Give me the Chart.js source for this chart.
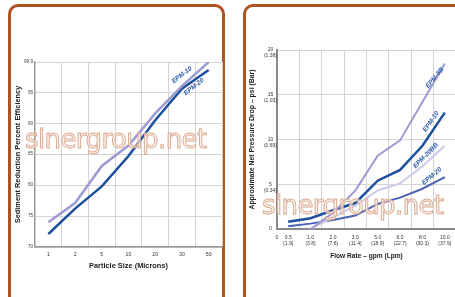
<!DOCTYPE html>
<html>
<head>
<meta charset="utf-8">
<script src="https://cdn.jsdelivr.net/npm/chart.js"></script>
<style>
    html, body { margin: 0; padding: 0; background: #fff; }
    body { width: 455px; height: 297px; overflow: hidden; position: relative; }
    .panel {
        position: absolute;
        box-sizing: border-box;
        border: 3px solid #b0521f;
        border-radius: 10px;
        background: #fff;
    }
    canvas { position: absolute; z-index: 2; }
    .wm {
        position: absolute;
        z-index: 3;
        font: 26px "DejaVu Sans", sans-serif;
        letter-spacing: -0.6px;
        line-height: 1;
        white-space: nowrap;
        color: rgba(252, 242, 236, 0.7);
        -webkit-text-stroke: 1px #dcab90;
        pointer-events: none;
    }
</style>
</head>
<body>
<div class="panel" style="left:8px;top:4px;width:217px;height:320px"></div>
<div class="panel" style="left:243px;top:4px;width:240px;height:320px"></div>
<canvas id="eff" width="214" height="260" style="left:10px;top:20px"></canvas>
<canvas id="drop" width="215" height="260" style="left:245px;top:20px"></canvas>
<div class="wm" style="left:25px;top:126px">sinergroup.net</div>
<div class="wm" style="left:262px;top:192px">sinergroup.net</div>
<script>
// --- sediment reduction chart
const sizeLabels = ['1', '2', '5', '10', '20', '30', '50'];
const effTicks = [70, 75, 80, 85, 90, 95, 99.9];
const epm10Eff = [74.0, 77.1, 83.1, 86.4, 91.6, 96.0, 99.9];
const epm20Eff = [72.1, 76.2, 79.8, 84.7, 90.5, 95.6, 98.6];

// --- pressure drop chart
const flowGpm = ['0.5', '1.0', '2.0', '3.0', '5.0', '6.0', '8.0', '10.0'];
const flowLpm = ['(1.9)', '(3.8)', '(7.6)', '(11.4)', '(18.9)', '(22.7)', '(30.3)', '(37.9)'];
const psiTicks = [0, 5, 10, 15, 20];
const barTicks = ['', '(0.34)', '(0.69)', '(1.03)', '(1.38)'];
const epm8bDrop = [null, 0, 1.8, 4.3, 8.2, 9.9, 14.2, 18.5];
const epm10Drop = [0.8, 1.2, 2.1, 2.9, 5.4, 6.6, 9.3, 13.0];
const epm20bbDrop = [null, 0, 1.3, 2.6, 4.3, 5.1, 7.0, 9.3];
const epm20Drop = [0.3, 0.6, 1.0, 1.5, 2.8, 3.5, 4.5, 5.8];

const FONT = '"Liberation Sans", Arial, sans-serif';
const GRID = '#d4d4d4';
const TAG_BLUE = '#2a5aa8';

// rotated series names, anchored in data space
const seriesTags = {
    id: 'seriesTags',
    afterDatasetsDraw(chart, args, opts) {
        const { ctx, scales: { x, y } } = chart;
        ctx.save();
        ctx.fillStyle = TAG_BLUE;
        ctx.font = 'italic bold 6.5px ' + FONT;
        ctx.textAlign = 'center';
        ctx.textBaseline = 'middle';
        (opts.tags || []).forEach(t => {
            ctx.save();
            ctx.translate(x.getPixelForValue(t.at), y.getPixelForValue(t.val));
            ctx.rotate(t.angle * Math.PI / 180);
            ctx.fillText(t.text, 0, 0);
            ctx.restore();
        });
        if (opts.originZero) {
            ctx.fillStyle = '#333';
            ctx.font = '5px ' + FONT;
            ctx.fillText('0', chart.chartArea.left, x.top + 6 + 3);
        }
        ctx.restore();
    }
};

function line(label, data, color, width) {
    return {
        label, data,
        borderColor: color,
        borderWidth: width,
        pointRadius: 0,
        tension: 0,
        fill: false
    };
}

new Chart(document.getElementById('eff'), {
    type: 'line',
    data: {
        labels: sizeLabels,
        datasets: [
            line('EPM-10', epm10Eff, '#9d9bd2', 2.5),
            line('EPM-20', epm20Eff, '#1d4f9f', 2.5)
        ]
    },
    plugins: [seriesTags],
    options: {
        responsive: false,
        animation: false,
        devicePixelRatio: 1,
        layout: { padding: { top: 42, right: 2, left: 0, bottom: 0 } },
        plugins: {
            legend: { display: false },
            tooltip: { enabled: false },
            seriesTags: {
                tags: [
                    { text: 'EPM-10', at: 5.0, val: 97.8, angle: -37 },
                    { text: 'EPM-20', at: 5.45, val: 95.9, angle: -38 }
                ]
            }
        },
        scales: {
            x: {
                offset: true,
                grid: { offset: true, color: GRID, drawTicks: false },
                border: { color: '#999', width: 1.5 },
                ticks: { font: { size: 5.2, family: FONT }, color: '#333', padding: 4.9, maxRotation: 0 },
                title: {
                    display: true, text: 'Particle Size (Microns)', color: '#222',
                    font: { size: 7.4, weight: 'bold', family: FONT },
                    padding: { top: 0, bottom: 9.5 }
                },
                afterFit: s => { s.height = 33; }
            },
            y: {
                min: 70, max: 99.9,
                afterBuildTicks: s => { s.ticks = effTicks.map(v => ({ value: v })); },
                grid: { color: GRID, drawTicks: false },
                border: { color: '#999', width: 1.5 },
                ticks: { font: { size: 4.6, family: FONT }, color: '#444', padding: 2, callback: v => String(v) },
                title: {
                    display: true, text: 'Sediment Reduction Percent Efficiency', color: '#222',
                    font: { size: 7.4, weight: 'bold', family: FONT },
                    padding: { top: 3.5, bottom: 0 }
                },
                afterFit: s => { s.width = 25; }
            }
        }
    }
});

new Chart(document.getElementById('drop'), {
    type: 'line',
    data: {
        labels: flowGpm,
        datasets: [
            line('EPM-8B', epm8bDrop, '#9d9bd2', 2),
            line('EPM-20BB', epm20bbDrop, '#c9cbea', 2),
            line('EPM-20', epm20Drop, '#4b62b4', 2),
            line('EPM-10', epm10Drop, '#1d4f9f', 2.5)
        ]
    },
    plugins: [seriesTags],
    options: {
        responsive: false,
        animation: false,
        devicePixelRatio: 1,
        layout: { padding: { top: 30, right: 4, left: 0, bottom: 0 } },
        plugins: {
            legend: { display: false },
            tooltip: { enabled: false },
            seriesTags: {
                originZero: true,
                tags: [
                    { text: 'EPM-8B', at: 6.55, val: 16.9, angle: -50 },
                    { text: 'EPM-10', at: 6.38, val: 12.0, angle: -55 },
                    { text: 'EPM-20BB', at: 6.15, val: 8.2, angle: -45 },
                    { text: 'EPM-20', at: 6.42, val: 5.9, angle: -40 }
                ]
            }
        },
        scales: {
            x: {
                offset: true,
                grid: { offset: true, color: GRID, drawTicks: false },
                border: { color: '#8a8a8a', width: 2 },
                ticks: {
                    font: { size: 5, family: FONT }, color: '#333', padding: 6, maxRotation: 0,
                    callback: (v, i) => [flowGpm[i], flowLpm[i]]
                },
                title: {
                    display: true, text: 'Flow Rate – gpm (Lpm)', color: '#222',
                    font: { size: 6.6, weight: 'bold', family: FONT },
                    padding: { top: 0, bottom: 20 }
                },
                afterFit: s => { s.height = 51; }
            },
            y: {
                min: 0, max: 20,
                afterBuildTicks: s => { s.ticks = psiTicks.map(v => ({ value: v })); },
                grid: { color: GRID, drawTicks: false },
                border: { color: '#8a8a8a', width: 2 },
                ticks: {
                    font: { size: 5, family: FONT }, color: '#333', padding: 0,
                    crossAlign: 'center', labelOffset: 3,
                    callback: v => [String(v), barTicks[psiTicks.indexOf(v)]]
                },
                title: {
                    display: true, text: 'Approximate Net Pressure Drop – psi (Bar)', color: '#222',
                    font: { size: 6.9, weight: 'bold', family: FONT },
                    padding: { top: 3, bottom: 0 }
                },
                afterFit: s => { s.width = 32; }
            }
        }
    }
});
</script>
</body>
</html>
